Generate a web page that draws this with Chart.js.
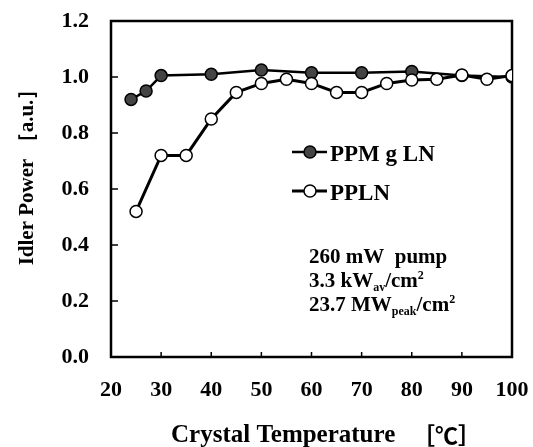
<!DOCTYPE html>
<html>
<head>
<meta charset="utf-8">
<script src="https://cdn.jsdelivr.net/npm/chart.js@4.4.0/dist/chart.umd.min.js"></script>
<style>
  html, body { margin: 0; padding: 0; background: #ffffff; }
  #wrap { width: 533px; height: 447px; }
</style>
</head>
<body>
<div id="wrap"><canvas id="idlerChart" width="533" height="447"></canvas></div>
<script>
// PPMgLN (filled circles)
const ppmglnTemp = [24, 27, 30, 40, 50, 60, 70, 80, 90, 100];
const ppmglnPower = [0.92, 0.95, 1.005, 1.01, 1.025, 1.015, 1.015, 1.02, 1.005, 1.0];

// PPLN (open circles)
const pplnTemp = [25, 30, 35, 40, 45, 50, 55, 60, 65, 70, 75, 80, 85, 90, 95, 100];
const pplnPower = [0.52, 0.72, 0.72, 0.85, 0.945, 0.977, 0.992, 0.977, 0.945, 0.945, 0.977, 0.989, 0.992, 1.007, 0.992, 1.005];

const xTicks = [20, 30, 40, 50, 60, 70, 80, 90, 100];
const yTicks = [0.0, 0.2, 0.4, 0.6, 0.8, 1.0, 1.2];

const seriesNames = ["PPM g LN", "PPLN"];
const noteLines = [
  [["260 mW  pump", ""]],
  [["3.3 kW", ""], ["av", "sub"], ["/cm", ""], ["2", "sup"]],
  [["23.7 MW", ""], ["peak", "sub"], ["/cm", ""], ["2", "sup"]]
];

const serif = "'Liberation Serif', 'Times New Roman', serif";
const cjk = "'Noto Sans CJK JP', 'Liberation Serif', serif";

function toPoints(xs, ys) {
  return xs.map((x, i) => ({ x: x, y: ys[i] }));
}

// draws the box, inner ticks, axis titles, legend and the note text
const decorPlugin = {
  id: "decor",
  beforeDatasetsDraw(chart) {
    const ctx = chart.ctx;
    const a = chart.chartArea;
    const xs = chart.scales.x;
    const ys = chart.scales.y;
    ctx.save();
    ctx.strokeStyle = "#000";
    ctx.lineWidth = 1.5;
    xTicks.forEach(v => {
      const px = xs.getPixelForValue(v);
      ctx.beginPath();
      ctx.moveTo(px, a.bottom);
      ctx.lineTo(px, a.bottom - 5);
      ctx.stroke();
    });
    yTicks.forEach(v => {
      const py = ys.getPixelForValue(v);
      ctx.beginPath();
      ctx.moveTo(a.left, py);
      ctx.lineTo(a.left + 7, py);
      ctx.stroke();
    });
    ctx.lineWidth = 2.5;
    ctx.strokeRect(a.left, a.top, a.right - a.left, a.bottom - a.top);
    ctx.restore();
  },
  afterDatasetsDraw(chart) {
    const ctx = chart.ctx;
    ctx.save();
    ctx.fillStyle = "#000";

    // x axis title
    ctx.textAlign = "left";
    ctx.textBaseline = "alphabetic";
    ctx.font = "bold 25px " + serif;
    ctx.fillText("Crystal Temperature", 171, 442);
    ctx.font = "bold 23px " + cjk;
    ctx.fillText("\uFF3B\u2103\uFF3D", 412, 444);

    // y axis title
    ctx.translate(28, 172);
    ctx.rotate(-Math.PI / 2);
    ctx.font = "bold 21px " + serif;
    ctx.textAlign = "center";
    ctx.textBaseline = "middle";
    ctx.fillText("Idler Power \uFF3Ba.u.\uFF3D", 0, 0);
    ctx.setTransform(1, 0, 0, 1, 0, 0);

    // legend
    const legendRows = [152, 191];
    chart.data.datasets.forEach((ds, i) => {
      const y = legendRows[i];
      ctx.strokeStyle = ds.borderColor;
      ctx.lineWidth = ds.borderWidth;
      ctx.beginPath();
      ctx.moveTo(292, y);
      ctx.lineTo(327, y);
      ctx.stroke();
      ctx.beginPath();
      ctx.arc(310, y, ds.pointRadius, 0, Math.PI * 2);
      ctx.fillStyle = ds.pointBackgroundColor;
      ctx.fill();
      ctx.lineWidth = ds.pointBorderWidth;
      ctx.strokeStyle = ds.pointBorderColor;
      ctx.stroke();
      ctx.fillStyle = "#000";
      ctx.font = "bold 23px " + serif;
      ctx.textAlign = "left";
      ctx.textBaseline = "middle";
      ctx.fillText(seriesNames[i], 330, y + 3);
    });

    // note text
    const baselines = [263, 287, 311];
    ctx.textAlign = "left";
    ctx.textBaseline = "alphabetic";
    noteLines.forEach((parts, i) => {
      let x = 309;
      parts.forEach(([txt, kind]) => {
        let dy = 0;
        if (kind === "sub") { ctx.font = "bold 12px " + serif; dy = 4; }
        else if (kind === "sup") { ctx.font = "bold 12px " + serif; dy = -8; }
        else { ctx.font = "bold 21px " + serif; }
        ctx.fillText(txt, x, baselines[i] + dy);
        x += ctx.measureText(txt).width;
      });
    });
    ctx.restore();
  }
};

const chart = new Chart(document.getElementById("idlerChart"), {
  type: "scatter",
  data: {
    datasets: [
      {
        label: seriesNames[0],
        data: toPoints(ppmglnTemp, ppmglnPower),
        showLine: true,
        borderColor: "#000",
        borderWidth: 2.5,
        pointRadius: 6,
        pointBackgroundColor: "#444",
        pointBorderColor: "#000",
        pointBorderWidth: 1.5,
        order: 2
      },
      {
        label: seriesNames[1],
        data: toPoints(pplnTemp, pplnPower),
        showLine: true,
        borderColor: "#000",
        borderWidth: 3,
        pointRadius: 6,
        pointBackgroundColor: "#fff",
        pointBorderColor: "#000",
        pointBorderWidth: 1.5,
        order: 1
      }
    ]
  },
  options: {
    responsive: false,
    animation: false,
    layout: { padding: { left: 0, right: 21, top: 21, bottom: 0 } },
    plugins: {
      legend: { display: false },
      tooltip: { enabled: false }
    },
    scales: {
      x: {
        type: "linear",
        min: 20,
        max: 100,
        afterBuildTicks: s => { s.ticks = xTicks.map(v => ({ value: v })); },
        afterFit: s => { s.height = 90; s.paddingLeft = 0; s.paddingRight = 0; },
        grid: { display: false, drawTicks: false },
        border: { display: false },
        ticks: {
          color: "#000",
          padding: 20,
          font: { family: serif, size: 22, weight: "bold" }
        }
      },
      y: {
        type: "linear",
        min: 0,
        max: 1.2,
        afterBuildTicks: s => { s.ticks = yTicks.map(v => ({ value: v })); },
        afterFit: s => { s.width = 111; s.paddingTop = 0; s.paddingBottom = 0; },
        grid: { display: false, drawTicks: false },
        border: { display: false },
        ticks: {
          color: "#000",
          padding: 22,
          font: { family: serif, size: 22, weight: "bold" },
          callback: v => v.toFixed(1)
        }
      }
    }
  },
  plugins: [decorPlugin]
});
</script>
</body>
</html>
